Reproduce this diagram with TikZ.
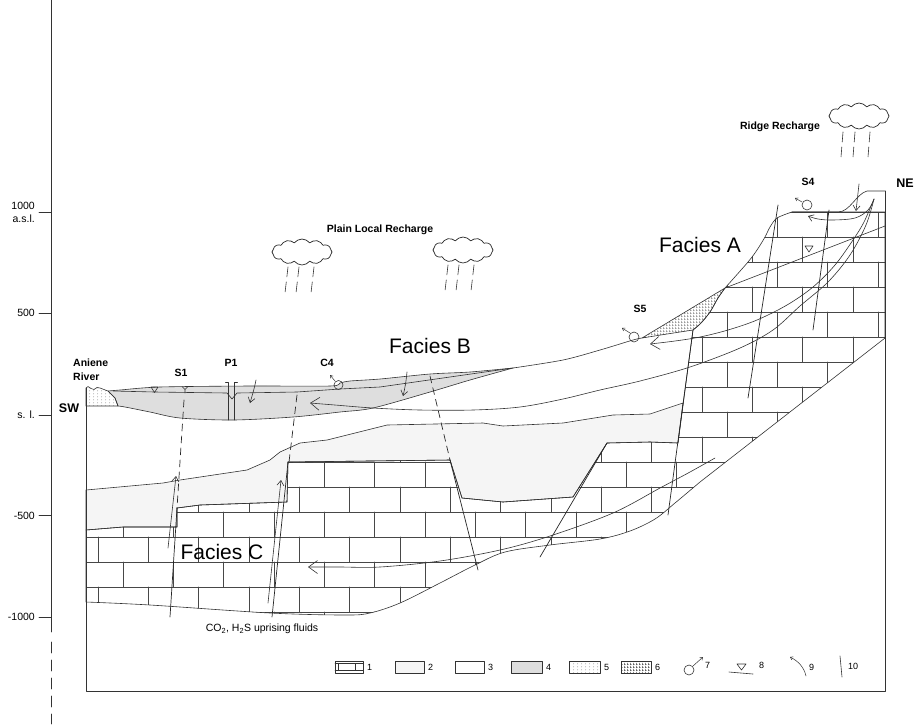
\documentclass[tikz,border=0pt]{standalone}
\usepackage{fontspec}
\setmainfont{Liberation Sans}
\usetikzlibrary{arrows.meta,shapes.symbols,patterns}

% fine sand dots (unit 5)
\pgfdeclarepatternformonly{sanddots}{\pgfqpoint{0pt}{0pt}}{\pgfqpoint{4pt}{3pt}}{\pgfqpoint{4pt}{3pt}}{%
  \pgfpathcircle{\pgfqpoint{2pt}{1.5pt}}{0.45pt}%
  \pgfusepath{fill}}
% dashed grid (unit 6)
\pgfdeclarepatternformonly{marlgrid}{\pgfqpoint{0pt}{0pt}}{\pgfqpoint{3pt}{3pt}}{\pgfqpoint{3pt}{3pt}}{%
  \pgfsetlinewidth{0.5pt}%
  \pgfpathmoveto{\pgfqpoint{0pt}{0.4pt}}\pgfpathlineto{\pgfqpoint{2.2pt}{0.4pt}}%
  \pgfpathmoveto{\pgfqpoint{0.4pt}{1.2pt}}\pgfpathlineto{\pgfqpoint{0.4pt}{2.8pt}}%
  \pgfusepath{stroke}}

\tikzset{
  ln/.style={line width=0.6pt, draw=black!80},
  brick/.style={line width=0.55pt, draw=black!72},
  fault/.style={line width=0.7pt, draw=black!85},
  dfault/.style={fault, dash pattern=on 7pt off 5pt},
  flow/.style={ln, -{Straight Barb[length=9pt,width=13pt]}},
  shortarrow/.style={ln, -{Straight Barb[length=5pt,width=7pt]}},
  tinyarrow/.style={line width=0.5pt, draw=black!80, -{Straight Barb[length=2.5pt,width=3.5pt]}},
  rain/.style={line width=0.6pt, draw=black!80, dash pattern=on 10pt off 5pt},
  raincloud/.style={cloud, draw=black!85, line width=0.7pt, cloud puffs=12, cloud puff arc=105,
    aspect=2.3, minimum width=60pt, minimum height=26pt, inner sep=0pt},
  lab/.style={font=\bfseries\fontsize{10.5}{12}\selectfont, inner sep=0pt},
  facies/.style={font=\fontsize{21}{24}\selectfont, inner sep=0pt},
  axislab/.style={font=\fontsize{10.5}{12}\selectfont, inner sep=0pt, anchor=east},
  leglab/.style={font=\fontsize{9}{10}\selectfont, inner sep=0pt, anchor=west},
  legbox/.style={ln, line width=0.5pt},
  % limestone body (unit 1)
  lspath/.style={insert path={(86,530) -- (123,527) -- (177,527) -- (177,508) -- (200,505) -- (287,502)
    -- (288,462) -- (450,460) -- (462,498) -- (503,502) -- (573,497) -- (607,443) -- (650,442) -- (678,443)
    -- (693,330) -- plot[smooth,tension=0.5] coordinates {(693,330) (701,323) (710,312) (718,298) (725,288)}
    -- plot[smooth,tension=0.5] coordinates {(725,288) (748,262) (757,250) (765,237) (770,227) (777,218) (792,212)}
    -- (885,212) -- (885,338) -- (700,482)
    -- plot[smooth,tension=0.55] coordinates {(700,482) (675,503) (655,519) (630,531) (600,539) (550,545)
       (505,552) (475,565) (440,583) (400,603) (370,613) (345,615) (270,613) (150,605) (86,602)} -- cycle}},
  % unit 2 layer
  utwopath/.style={insert path={(86,490) -- (163,483) -- (180,480) -- (247,470) -- (270,460) -- (280,452)
    -- (300,443) -- (327,440) -- (387,425) -- (483,423) -- (503,426) -- (563,423) -- (613,415) -- (650,414)
    -- (683,403) -- (678,443) -- (650,442) -- (607,443) -- (573,497) -- (503,502) -- (462,498) -- (450,460)
    -- (288,462) -- (287,502) -- (200,505) -- (177,508) -- (177,527) -- (123,527) -- (86,530) -- cycle}},
  % alluvial lens (unit 4)
  lenspath/.style={insert path={plot[smooth,tension=0.5] coordinates {(108,391) (120,390) (160,387) (250,386)
    (330,386) (340,383) (350,381) (380,379) (430,374) (470,372) (513,368)}
    -- plot[smooth,tension=0.5] coordinates {(513,368) (470,380) (430,392) (373,408) (340,412) (293,417)
    (233,420) (180,418) (150,412) (125,407) (118,406)} -- (115,398) -- (110,393) -- cycle}},
  % river sands (unit 5)
  sandpath/.style={insert path={(86,388) -- (88,386.5) -- (91,388.5) -- (94,389.5) -- (97,387.5) -- (100,388)
    -- (104,389.5) -- (108,391) -- (110,393) -- (115,398) -- (118,406) -- (86,406) -- cycle}},
  % slope deposit (unit 6)
  marlpath/.style={insert path={(642,338) -- (725,288)
    -- plot[smooth,tension=0.5] coordinates {(725,288) (718,298) (710,312) (701,323) (693,330)}
    -- (667,334) -- cycle}},
}

\begin{document}
\begin{tikzpicture}[x=1pt,y=-1pt,line join=round,line cap=round]
\useasboundingbox (0,0) rectangle (915,724);

% ---------- elevation axis ----------
\draw[ln] (51,0) -- (51,632);
\draw[ln, dash pattern=on 11pt off 7pt] (51,642) -- (51,724);
\foreach \yy in {212,313,415,515,617} \draw[ln] (39,\yy) -- (51,\yy);
\node[axislab] (a1000) at (35,206) {1000};
\node[axislab] (aasl) at (35,219) {a.s.l.};
\node[axislab] (a500) at (35,313) {500};
\node[axislab] (asl) at (35,415) {s. l.};
\node[axislab] (am500) at (35,516) {-500};
\node[axislab] (am1000) at (35,617) {-1000};

% ---------- fills ----------
\fill[black!4, utwopath];
\fill[black!13, lenspath];
\fill[pattern=sanddots, pattern color=black!75, sandpath];
\fill[pattern=marlgrid, pattern color=black!80, marlpath];

% ---------- limestone bricks ----------
\begin{scope}
  \clip[lspath];
  \foreach \k in {0,...,16}{
    \pgfmathsetmacro{\ya}{212+25*\k}
    \pgfmathsetmacro{\yb}{237+25*\k}
    \pgfmathsetmacro{\xo}{isodd(\k) ? 98 : 123}
    \draw[brick] (80,\ya) -- (890,\ya);
    \foreach \n in {-1,...,15}{
      \draw[brick] ({\xo+50.33*\n},\ya) -- ({\xo+50.33*\n},\yb);
    }
  }
\end{scope}

% ---------- unit outlines ----------
\draw[ln, lspath];
\draw[ln, utwopath];
\draw[ln, lenspath];
\draw[ln, sandpath];
\draw[ln, marlpath];

% ground surface
\draw[ln] plot[smooth,tension=0.5] coordinates {(513,368) (563,360) (600,350) (633,340) (642,338)};
\draw[ln] (792,212) -- (838,212) .. controls (850,212) and (856,194) .. (867,191) -- (885,191);
% section frame
\draw[ln] (86,388) -- (86,691) -- (885,691) -- (885,191);

% water table
\draw[ln] (113,391) -- (155,392) -- (227,393) -- (232,399) -- (237,393) -- (297,392) -- (340,389) -- (380,387) -- (513,368);
\draw[ln] (885,226) -- (725,288);
\draw[ln] (151,387) -- (158,387) -- (154.5,392.5) -- cycle;
\draw[ln] (805,246) -- (813,246) -- (809,252) -- cycle;

% ---------- faults ----------
\draw[dfault] (184,400) -- (177,508);
\draw[fault] (177,508) -- (170,617);
\draw[dfault] (297,395) -- (289,462);
\draw[fault] (288,462) -- (272,617);
\draw[dfault] (430,376) -- (450,460);
\draw[fault] (450,460) -- (478,570);
\draw[fault] (607,443) -- (540,557);
\draw[fault] (693,330) -- (668,515);
\draw[fault] (778,205) -- (748,398);
\draw[fault] (829,210) -- (813,330);

% ---------- groundwater flow paths ----------
\draw[flow] plot[smooth,tension=0.55] coordinates {(874,199) (866,225) (850,255) (828,282) (800,306) (773,330)
  (740,348) (690,367) (640,381) (600,390) (563,399) (520,407) (473,410) (420,410) (373,408) (335,405) (310,403)};
\draw[flow] plot[smooth,tension=0.55] coordinates {(874,199) (864,222) (853,240) (835,265) (813,287) (787,305)
  (757,320) (728,330) (700,337) (675,341) (650,344)};
\draw[shortarrow] plot[smooth,tension=0.6] coordinates {(874,199) (868,210) (855,218) (833,220) (818,219) (808,216)};
\draw[flow] plot[smooth,tension=0.55] coordinates {(715,458) (690,472) (660,488) (613,513) (550,536) (500,550)
  (440,561) (380,567) (340,567) (308,567)};

% infiltration arrows
\draw[shortarrow] (256,380) .. controls (254,390) and (252,396) .. (250,403);
\draw[shortarrow] (407,372) .. controls (406,382) and (405,388) .. (403,396);
\draw[shortarrow] (859,184) -- (856,211);

% uprising fluids
\draw[shortarrow] (168,548) -- (176,476);
\draw[shortarrow] (268,603) -- (281,480);

% ---------- springs and well ----------
\draw[ln] (338.5,385) circle (4.5);
\draw[tinyarrow] (335,381) -- (330,375);
\draw[ln] (634,337) circle (5);
\draw[tinyarrow] (630,333) -- (622,328);
\draw[ln] (807,205) circle (5);
\draw[tinyarrow] (802,202) -- (795,198);
\draw[ln] (182,386.5) -- (185,389.5) -- (188,386.5) (185,389.5) -- (185,393);
\draw[ln] (225.5,382) -- (228.5,382) -- (228.5,420) (237.5,382) -- (234.5,382) -- (234.5,420);

% ---------- clouds and rain ----------
\node[raincloud] (cloudA) at (302,252) {};
\node[raincloud] (cloudB) at (463,250) {};
\node[raincloud] (cloudC) at (859,116) {};
\foreach \xx in {288,299,314} \draw[rain] (\xx,267) -- (\xx-3,293);
\foreach \xx in {448,459,474} \draw[rain] (\xx,265) -- (\xx-3,291);
\foreach \xx in {843,855,870} \draw[rain] (\xx,132) -- (\xx-2,157);

% ---------- labels ----------
\node[lab] (tplain) at (380,230) {Plain Local Recharge};
\node[lab] (tridge) at (780,127) {Ridge Recharge};
\node[lab, anchor=west, align=left, font=\bfseries\fontsize{10.5}{14}\selectfont] (triver) at (73,370) {Aniene\\River};
\node[lab, font=\bfseries\fontsize{12.5}{14}\selectfont] (tsw) at (69,408) {SW};
\node[lab, font=\bfseries\fontsize{12.5}{14}\selectfont] (tne) at (905,183) {NE};
\node[lab] (ts1) at (181,373) {S1};
\node[lab] (tp1) at (231,363) {P1};
\node[lab] (tc4) at (327,363) {C4};
\node[lab] (ts5) at (640,309) {S5};
\node[lab] (ts4) at (808,182) {S4};
\node[facies] (fA) at (700,245) {Facies A};
\node[facies] (fB) at (430,346) {Facies B};
\node[facies] (fC) at (222,552) {Facies C};
\node[font=\fontsize{10.5}{12}\selectfont, inner sep=0pt] (tfluid) at (262,629)
  {CO\textsubscript{2}, H\textsubscript{2}S uprising fluids};

% ---------- legend ----------
\draw[legbox] (335,661) rectangle (363,673);
\draw[legbox] (335,663.5) -- (363,663.5) (335,670.5) -- (363,670.5)
  (338.5,663.5) -- (338.5,670.5) (355,663.5) -- (355,670.5);
\node[leglab] (l1) at (367,667) {1};
\draw[legbox, fill=black!4] (395,661) rectangle (424,673);
\node[leglab] (l2) at (428,667) {2};
\draw[legbox] (455,661) rectangle (484,673);
\node[leglab] (l3) at (488,667) {3};
\draw[legbox, fill=black!13] (511,661) rectangle (542,673);
\node[leglab] (l4) at (546,667) {4};
\draw[legbox, pattern=sanddots, pattern color=black!75] (569,661) rectangle (600,673);
\node[leglab] (l5) at (604,667) {5};
\draw[legbox, pattern=marlgrid, pattern color=black!70] (621,661) rectangle (651,673);
\node[leglab] (l6) at (655,667) {6};
\draw[ln] (689,670) circle (5);
\draw[tinyarrow] (693,666) -- (703,657);
\node[leglab] (l7) at (705,665) {7};
\draw[ln] (729,672) -- (753,674);
\draw[ln] (737,664) -- (746,664) -- (741.5,670) -- cycle;
\node[leglab] (l8) at (759,665) {8};
\draw[tinyarrow] (806,676) .. controls (804,667) and (798,661) .. (790,657);
\node[leglab] (l9) at (809,667) {9};
\draw[ln] (840,656) -- (842,677);
\node[leglab] (l10) at (848,666) {10};
\end{tikzpicture}
\end{document}
